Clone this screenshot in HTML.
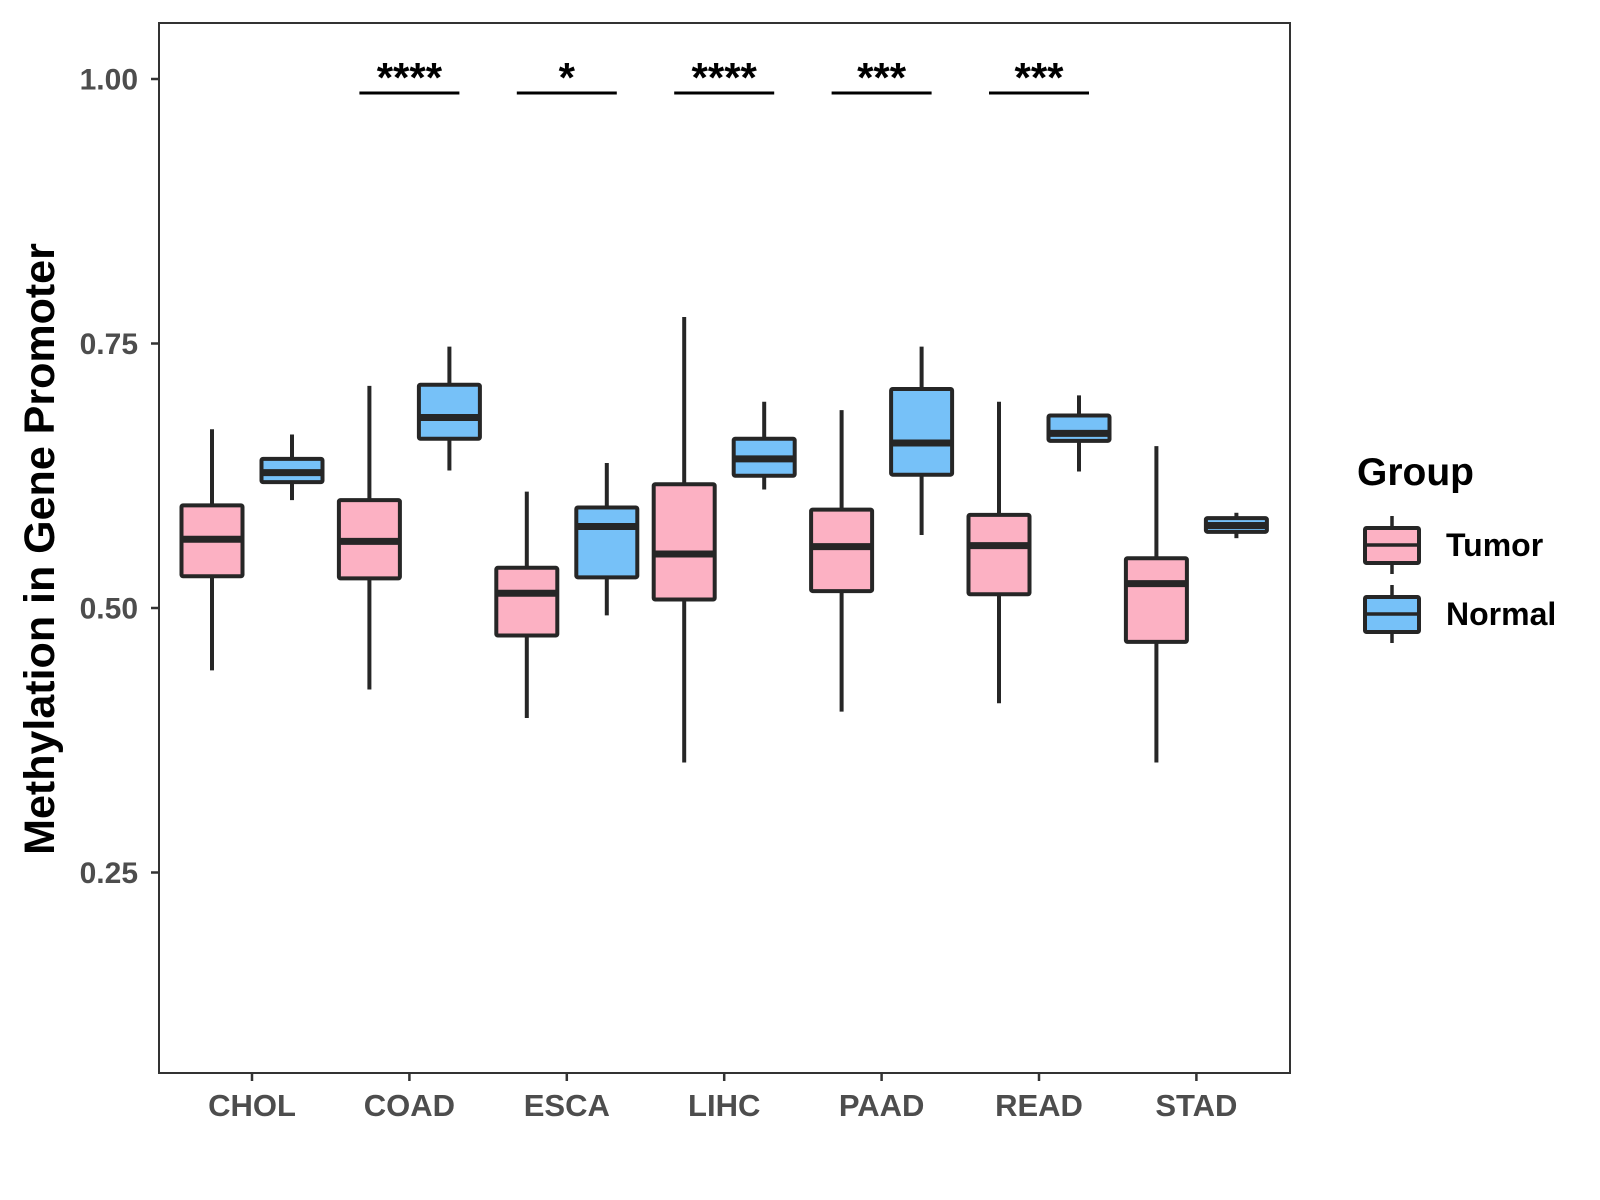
<!DOCTYPE html>
<html><head><meta charset="utf-8"><style>
body{margin:0;background:#fff}
svg{display:block;font-family:"Liberation Sans",Arial,sans-serif}
</style></head><body>
<svg id="chart" width="1600" height="1200" viewBox="0 0 1600 1200">
<rect x="159" y="23" width="1131" height="1050" fill="#fff" stroke="#333" stroke-width="2"/>
<g id="marks"></g>
<text x="0" y="0" transform="translate(54,549) rotate(-90)" text-anchor="middle" font-size="43" font-weight="bold" fill="#000">Methylation in Gene Promoter</text>
<text x="1357" y="485" font-size="39" font-weight="bold" fill="#000">Group</text>
</svg>
<script>
const categories=["CHOL","COAD","ESCA","LIHC","PAAD","READ","STAD"];
// [lowWhisker, Q1, median, Q3, highWhisker]
const tumor=[[0.441,0.530,0.565,0.597,0.669],[0.423,0.528,0.563,0.602,0.710],[0.396,0.474,0.514,0.538,0.610],[0.354,0.508,0.551,0.617,0.775],[0.402,0.516,0.558,0.593,0.687],[0.410,0.513,0.559,0.588,0.695],[0.354,0.468,0.523,0.547,0.653]];
const normal=[[0.602,0.619,0.628,0.641,0.664],[0.630,0.660,0.680,0.711,0.747],[0.493,0.529,0.577,0.595,0.637],[0.612,0.625,0.641,0.660,0.695],[0.569,0.626,0.656,0.707,0.747],[0.629,0.658,0.665,0.682,0.701],[0.566,0.572,0.578,0.585,0.590]];
const yTicks=[0.25,0.50,0.75,1.00];
const yTickLabels=["0.25","0.50","0.75","1.00"];
const signif=["","****","*","****","***","***",""];
const NS="http://www.w3.org/2000/svg";
const svg=document.getElementById('chart');
const g=document.getElementById('marks');
function y(v){return 608-(v-0.5)*1058;}
function x(i){return 252+i*157.4;}
function el(t,a,p){const e=document.createElementNS(NS,t);for(const k in a)e.setAttribute(k,a[k]);(p||g).appendChild(e);return e;}
yTicks.forEach((v,i)=>{
 const t=el('line',{x1:151,x2:159,y1:y(v),y2:y(v),stroke:'#333','stroke-width':2.5});
 
 
 const l=el('text',{x:138,y:y(v)+10.5,'text-anchor':'end','font-size':30,'font-weight':'bold',fill:'#4d4d4d'});
 l.textContent=yTickLabels[i];
 
 
});
categories.forEach((c,i)=>{
 const t=el('line',{x1:x(i),x2:x(i),y1:1073,y2:1081,stroke:'#333','stroke-width':2.5});
 
 
 const l=el('text',{x:x(i),y:1116,'text-anchor':'middle','font-size':31,'font-weight':'bold',fill:'#4d4d4d'});
 l.textContent=c;
 
 
});
function box(cx,d,fill,name,w){
 const grp=el('g',{});
 
 
 el('line',{x1:cx,x2:cx,y1:y(d[4]),y2:y(d[0]),stroke:'#262626','stroke-width':4},grp);
 el('rect',{x:cx-w/2,y:y(d[3]),width:w,height:y(d[1])-y(d[3]),fill:fill,stroke:'#262626','stroke-width':4,rx:1.5},grp);
 el('line',{x1:cx-w/2,x2:cx+w/2,y1:y(d[2]),y2:y(d[2]),stroke:'#262626','stroke-width':7},grp);
}
categories.forEach((c,i)=>{
 box(x(i)-40,tumor[i],'#fcb1c3','box-tumor-'+c.toLowerCase(),61);
 box(x(i)+40,normal[i],'#76c1f8','box-normal-'+c.toLowerCase(),61);
 if(signif[i]){
  const b=el('line',{x1:x(i)-50,x2:x(i)+50,y1:93,y2:93,stroke:'#000','stroke-width':3});
  
  
  const s=el('text',{x:x(i),y:92,'text-anchor':'middle','font-size':42,'font-weight':'bold',fill:'#000'});
  s.textContent=signif[i];
  
  
 }
});
// legend
[['Tumor','#fcb1c3',545],['Normal','#76c1f8',614]].forEach(([n,f,cy])=>{
 const grp=el('g',{},svg);
 
 
 el('line',{x1:1392,x2:1392,y1:cy-29,y2:cy+29,stroke:'#262626','stroke-width':3.5},grp);
 el('rect',{x:1365,y:cy-17,width:54,height:35,fill:f,stroke:'#262626','stroke-width':4,rx:1.5},grp);
 el('line',{x1:1365,x2:1419,y1:cy,y2:cy,stroke:'#262626','stroke-width':3.5},grp);
 const t=el('text',{x:1446,y:cy+11,'font-size':32,'font-weight':'bold',fill:'#000'},grp);
 t.textContent=n;
});
</script>
</body></html>
